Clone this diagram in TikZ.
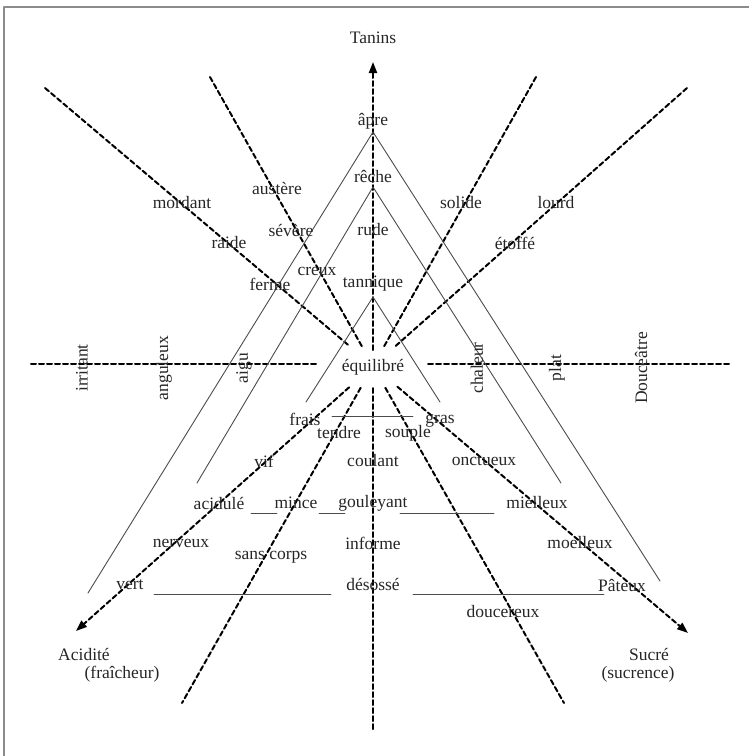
\documentclass[tikz,border=0pt]{standalone}
\usepackage{fontspec}
\setmainfont{Liberation Serif}
\usetikzlibrary{arrows.meta,calc}
\tikzset{
  axe/.style={line width=2pt, dash pattern=on 5pt off 3pt},
  trait/.style={black!70, line width=0.9pt},
  mot/.style={font=\fontsize{17.5}{20}\selectfont, inner sep=0pt, text=black!85},
  motv/.style={mot, rotate=90},
  pointe/.style={-{Triangle[length=11pt,width=8pt]}}
}
\begin{document}
\begin{tikzpicture}[x=1pt, y=-1pt, line cap=round, line join=round]
  \useasboundingbox (0,0) rectangle (749,756);
  % cadre
  \draw[black!45, line width=1.5pt] (4,756) -- (4,7) -- (749,7);
  % centre et bouts des axes
  \coordinate (C) at (373,366);
  \coordinate (hautV) at (373,62);
  \coordinate (basV) at (373,730);
  \coordinate (g1) at (45,88);   \coordinate (d1) at (688,633);
  \coordinate (g2) at (210,77);  \coordinate (d2) at (564,703);
  \coordinate (g3) at (536,77);  \coordinate (d3) at (182,703);
  \coordinate (g4) at (687,88);  \coordinate (d4) at (76,631);
  \coordinate (hg) at (31,364);  \coordinate (hgi) at (316,364);
  \coordinate (hdi) at (428,364); \coordinate (hd) at (731,364);

  % axes en pointilles
  \draw[axe,pointe] ($(C)!16pt!(hautV)$) -- (hautV);
  \draw[axe] ($(C)!22pt!(basV)$) -- (basV);
  \draw[axe] (hg) -- (hgi);
  \draw[axe] (hdi) -- (hd);
  \draw[axe] (g1) -- ($(C)!30pt!(g1)$);
  \draw[axe,pointe] ($(C)!32pt!(d1)$) -- (d1);
  \draw[axe] (g2) -- ($(C)!21pt!(g2)$);
  \draw[axe] ($(C)!25pt!(d2)$) -- (d2);
  \draw[axe] (g3) -- ($(C)!21pt!(g3)$);
  \draw[axe] ($(C)!25pt!(d3)$) -- (d3);
  \draw[axe] (g4) -- ($(C)!30pt!(g4)$);
  \draw[axe,pointe] ($(C)!32pt!(d4)$) -- (d4);

  % triangles
  \draw[trait] (88,593) -- (373,132) -- (660,581);
  \draw[trait] (197,483) -- (373,187) -- (561,483);
  \draw[trait] (306,402) -- (373,297) -- (440,402);

  % traits horizontaux
  \draw[trait] (332,416) -- (413,416);
  \draw[trait] (251,513) -- (277,513);
  \draw[trait] (319,513) -- (345,513);
  \draw[trait] (400,513) -- (494,513);
  \draw[trait] (154,594) -- (331,594);
  \draw[trait] (413,594) -- (604,594);

  % mots
  \node[mot] (tanins) at (373,38) {Tanins};
  \node[mot] (apre) at (373,121) {âpre};
  \node[mot] (reche) at (373,176) {rêche};
  \node[mot] (austere) at (277,188) {austère};
  \node[mot] (mordant) at (182,203) {mordant};
  \node[mot] (solide) at (461,203) {solide};
  \node[mot] (lourd) at (556,203) {lourd};
  \node[mot] (severe) at (291,230) {sévère};
  \node[mot] (rude) at (373,230) {rude};
  \node[mot] (raide) at (229,243) {raide};
  \node[mot] (etoffe) at (515,243) {étoffé};
  \node[mot] (creux) at (317,271) {creux};
  \node[mot] (ferme) at (270,284) {ferme};
  \node[mot] (tannique) at (373,284) {tannique};
  \node[mot] (equilibre) at (373,367) {équilibré};
  \node[motv] (irritant) at (82,368) {irritant};
  \node[motv] (anguleux) at (164,368) {anguleux};
  \node[motv] (aigu) at (244,368) {aigu};
  \node[motv] (chaleur) at (477,368) {chaleur};
  \node[motv] (plat) at (557,368) {plat};
  \node[motv] (douceatre) at (641,368) {Douceâtre};
  \node[mot] (frais) at (305,419) {frais};
  \node[mot] (gras) at (440,421) {gras};
  \node[mot] (tendre) at (339,433) {tendre};
  \node[mot] (souple) at (408,433) {souple};
  \node[mot] (vif) at (264,461) {vif};
  \node[mot] (coulant) at (373,461) {coulant};
  \node[mot] (onctueux) at (484,461) {onctueux};
  \node[mot] (acidule) at (219,503) {acidulé};
  \node[mot] (mince) at (296,503) {mince};
  \node[mot] (gouleyant) at (373,503) {gouleyant};
  \node[mot] (mielleux) at (537,503) {mielleux};
  \node[mot] (nerveux) at (181,543) {nerveux};
  \node[mot] (informe) at (373,543) {informe};
  \node[mot] (moelleux) at (580,543) {moelleux};
  \node[mot] (sanscorps) at (271,557) {sans corps};
  \node[mot] (vert) at (130,585) {vert};
  \node[mot] (desosse) at (373,584) {désossé};
  \node[mot] (pateux) at (622,585) {Pâteux};
  \node[mot] (doucereux) at (503,612) {doucereux};
  \node[mot] (acidite) at (84,654) {Acidité};
  \node[mot] (fraicheur) at (122,674) {(fraîcheur)};
  \node[mot] (sucre) at (649,654) {Sucré};
  \node[mot] (sucrence) at (638,674) {(sucrence)};
\end{tikzpicture}
\end{document}
